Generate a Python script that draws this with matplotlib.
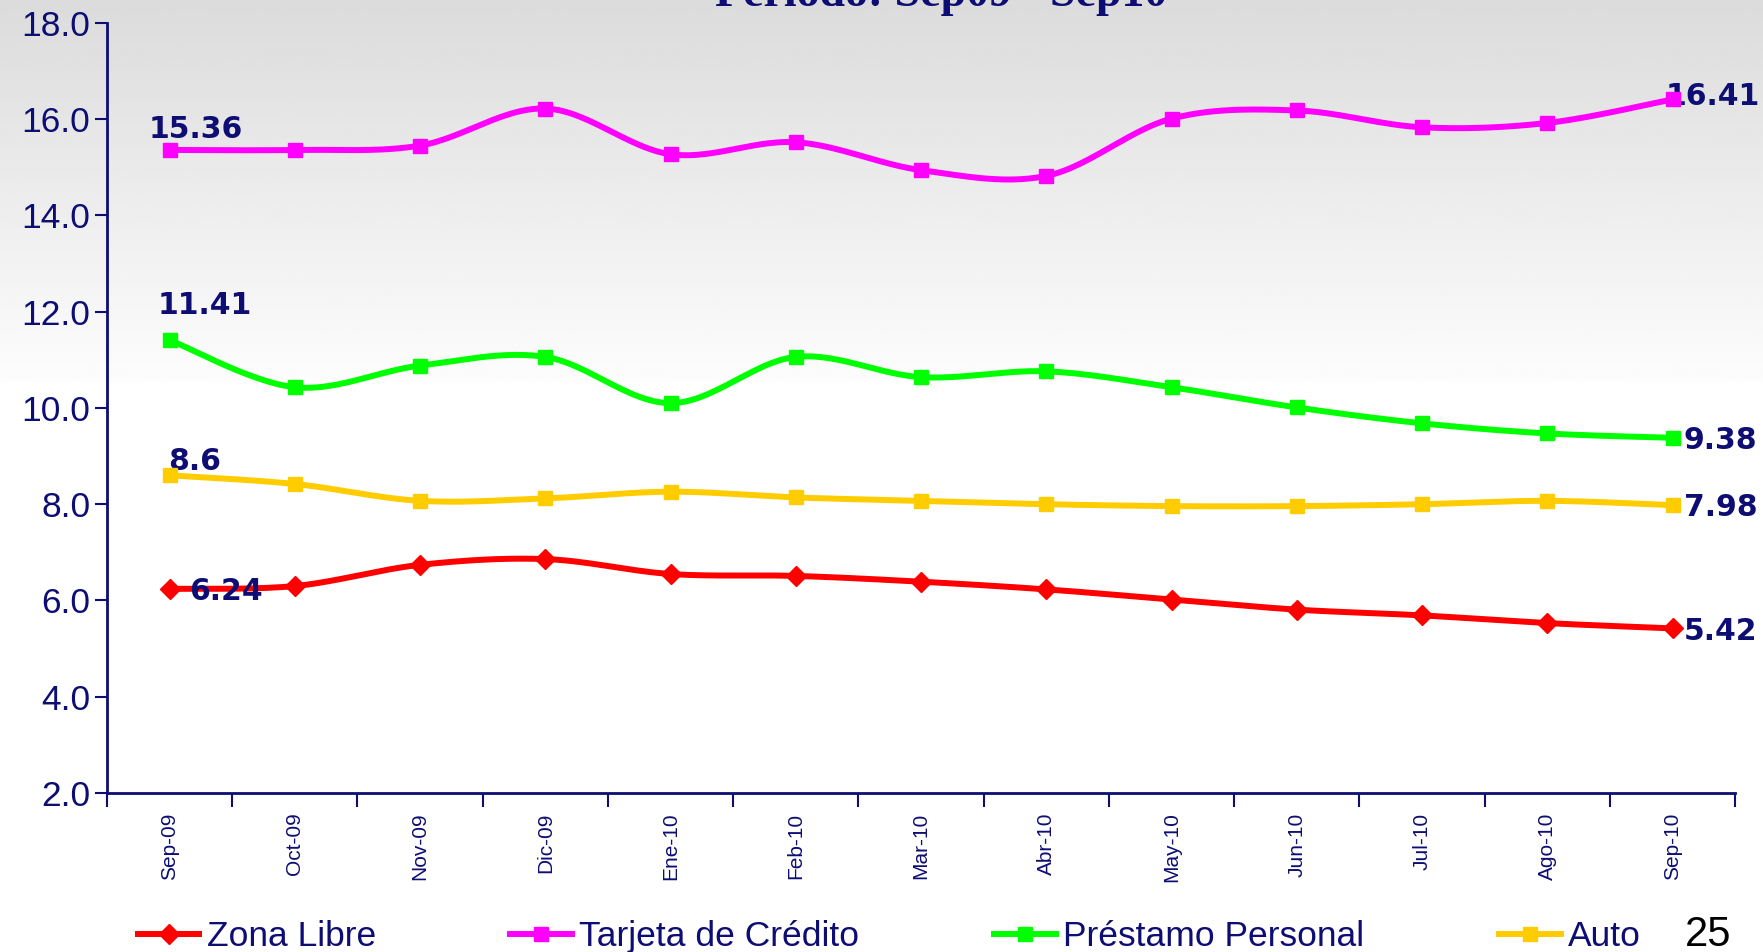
import numpy as np
import matplotlib
matplotlib.use('Agg')
import matplotlib.pyplot as plt

months = ['Sep-09', 'Oct-09', 'Nov-09', 'Dic-09', 'Ene-10', 'Feb-10', 'Mar-10',
          'Abr-10', 'May-10', 'Jun-10', 'Jul-10', 'Ago-10', 'Sep-10']
zona_libre = [6.24, 6.30, 6.74, 6.86, 6.55, 6.51, 6.39, 6.23, 6.02, 5.81, 5.69, 5.53, 5.42]
tarjeta = [15.36, 15.36, 15.45, 16.22, 15.27, 15.52, 14.94, 14.82, 16.01, 16.18, 15.83, 15.92, 16.41]
prestamo = [11.41, 10.43, 10.88, 11.06, 10.10, 11.06, 10.64, 10.76, 10.43, 10.01, 9.68, 9.47, 9.38]
auto = [8.60, 8.42, 8.07, 8.12, 8.26, 8.14, 8.07, 8.00, 7.96, 7.96, 8.00, 8.07, 7.98]

navy = '#0d0d73'


def smooth(x, y, n=30):
    # Excel-like smoothed line (Catmull-Rom bezier between points)
    x = np.asarray(x, float)
    y = np.asarray(y, float)
    px = np.concatenate([[x[0]], x, [x[-1]]])
    py = np.concatenate([[y[0]], y, [y[-1]]])
    xs, ys = [], []
    t = np.linspace(0, 1, n)
    for i in range(1, len(px) - 2):
        p0 = np.array([px[i], py[i]])
        p3 = np.array([px[i + 1], py[i + 1]])
        p1 = p0 + (p3 - np.array([px[i - 1], py[i - 1]])) / 6.0
        p2 = p3 - (np.array([px[i + 2], py[i + 2]]) - p0) / 6.0
        b = ((1 - t) ** 3)[:, None] * p0 + (3 * (1 - t) ** 2 * t)[:, None] * p1 \
            + (3 * (1 - t) * t ** 2)[:, None] * p2 + (t ** 3)[:, None] * p3
        xs.append(b[:, 0])
        ys.append(b[:, 1])
    return np.concatenate(xs), np.concatenate(ys)


fig = plt.figure(figsize=(17.63, 9.52), dpi=100)

# background gradient
bg = fig.add_axes([0, 0, 1, 1], zorder=-5)
rows = np.linspace(0, 1, 400)
vals = np.where(rows < 0.40, 0.86 + (0.99 - 0.86) * rows / 0.40, 1.0)
bg.imshow(np.tile(vals[:, None], (1, 10)), cmap='gray', vmin=0, vmax=1,
          aspect='auto', extent=[0, 1, 0, 1], origin='upper')
bg.axis('off')

ax = fig.add_axes([0.0607, 0.167, 0.9235, 0.809])
ax.patch.set_alpha(0)

x = np.arange(len(months))
series = [
    ('Zona Libre', zona_libre, '#ff0000', 'D'),
    ('Tarjeta de Crédito', tarjeta, '#ff00ff', 's'),
    ('Préstamo Personal', prestamo, '#00ff00', 's'),
    ('Auto', auto, '#ffcc00', 's'),
]
handles = []
for name, vals_, col, mk in series:
    ms = 10.5 if mk == 'D' else 9.5
    sx, sy = smooth(x, vals_)
    ax.plot(sx, sy, color=col, lw=4.3, solid_capstyle='round', zorder=3)
    ax.plot(x, vals_, ls='none', marker=mk, ms=ms, color=col, zorder=4)
    h, = ax.plot([], [], color=col, lw=4.3, marker=mk, ms=ms)
    handles.append(h)

lab = dict(color=navy, fontsize=21.5, fontweight='bold', family='DejaVu Sans',
           textcoords='offset points')
ax.annotate('15.36', (0, tarjeta[0]), xytext=(-15, 15), ha='left', va='center', **lab)
ax.annotate('11.41', (0, prestamo[0]), xytext=(-9, 25), ha='left', va='center', **lab)
ax.annotate('8.6', (0, auto[0]), xytext=(-1, 10), ha='left', va='center', **lab)
ax.annotate('6.24', (0, zona_libre[0]), xytext=(14, -2), ha='left', va='center', **lab)
ax.annotate('16.41', (12, tarjeta[-1]), xytext=(-5, 2), ha='left', va='center', **lab)
ax.annotate('9.38', (12, prestamo[-1]), xytext=(8, -2), ha='left', va='center', **lab)
ax.annotate('7.98', (12, auto[-1]), xytext=(8, -2), ha='left', va='center', **lab)
ax.annotate('5.42', (12, zona_libre[-1]), xytext=(8, -2), ha='left', va='center', **lab)

ax.set_xlim(-0.5, 12.5)
ax.set_ylim(2, 18)
ax.set_yticks(np.arange(2, 18.1, 2))
ax.set_yticklabels(['%.1f' % v for v in np.arange(2, 18.1, 2)])
ax.set_xticks(np.arange(-0.5, 12.6, 1))
ax.set_xticklabels([])
ax.set_xticks(x, minor=True)
ax.set_xticklabels(months, minor=True, rotation=90, fontsize=15, color=navy,
                   family='Liberation Sans')
ax.tick_params(axis='x', which='major', direction='out', length=10, width=1.5, color=navy)
ax.tick_params(axis='x', which='minor', length=0, pad=14)
ax.tick_params(axis='y', direction='out', length=9, width=1.5, color=navy,
               labelsize=25.5, labelcolor=navy, pad=3)
for t in ax.get_yticklabels():
    t.set_family('Liberation Sans')
for s in ['top', 'right']:
    ax.spines[s].set_visible(False)
for s in ['left', 'bottom']:
    ax.spines[s].set_color(navy)
    ax.spines[s].set_linewidth(2)

fig.text(0.534, 0.994, 'Período: Sep09 - Sep10', ha='center', va='baseline',
         fontsize=33, fontweight='bold', color=navy, family='Liberation Serif')

leg = fig.legend(handles, [s[0] for s in series], loc='center left',
                 bbox_to_anchor=(0.078, 0.016), ncol=4, frameon=False,
                 prop={'family': 'Liberation Sans', 'size': 25.5},
                 handlelength=1.75, handletextpad=0.2, columnspacing=3.8,
                 borderaxespad=0, borderpad=0)
for t in leg.get_texts():
    t.set_color(navy)

fig.text(0.969, 0.018, '25', ha='center', va='center', fontsize=30,
         color='black', family='Liberation Sans')

fig.savefig('out.png', dpi=100)
